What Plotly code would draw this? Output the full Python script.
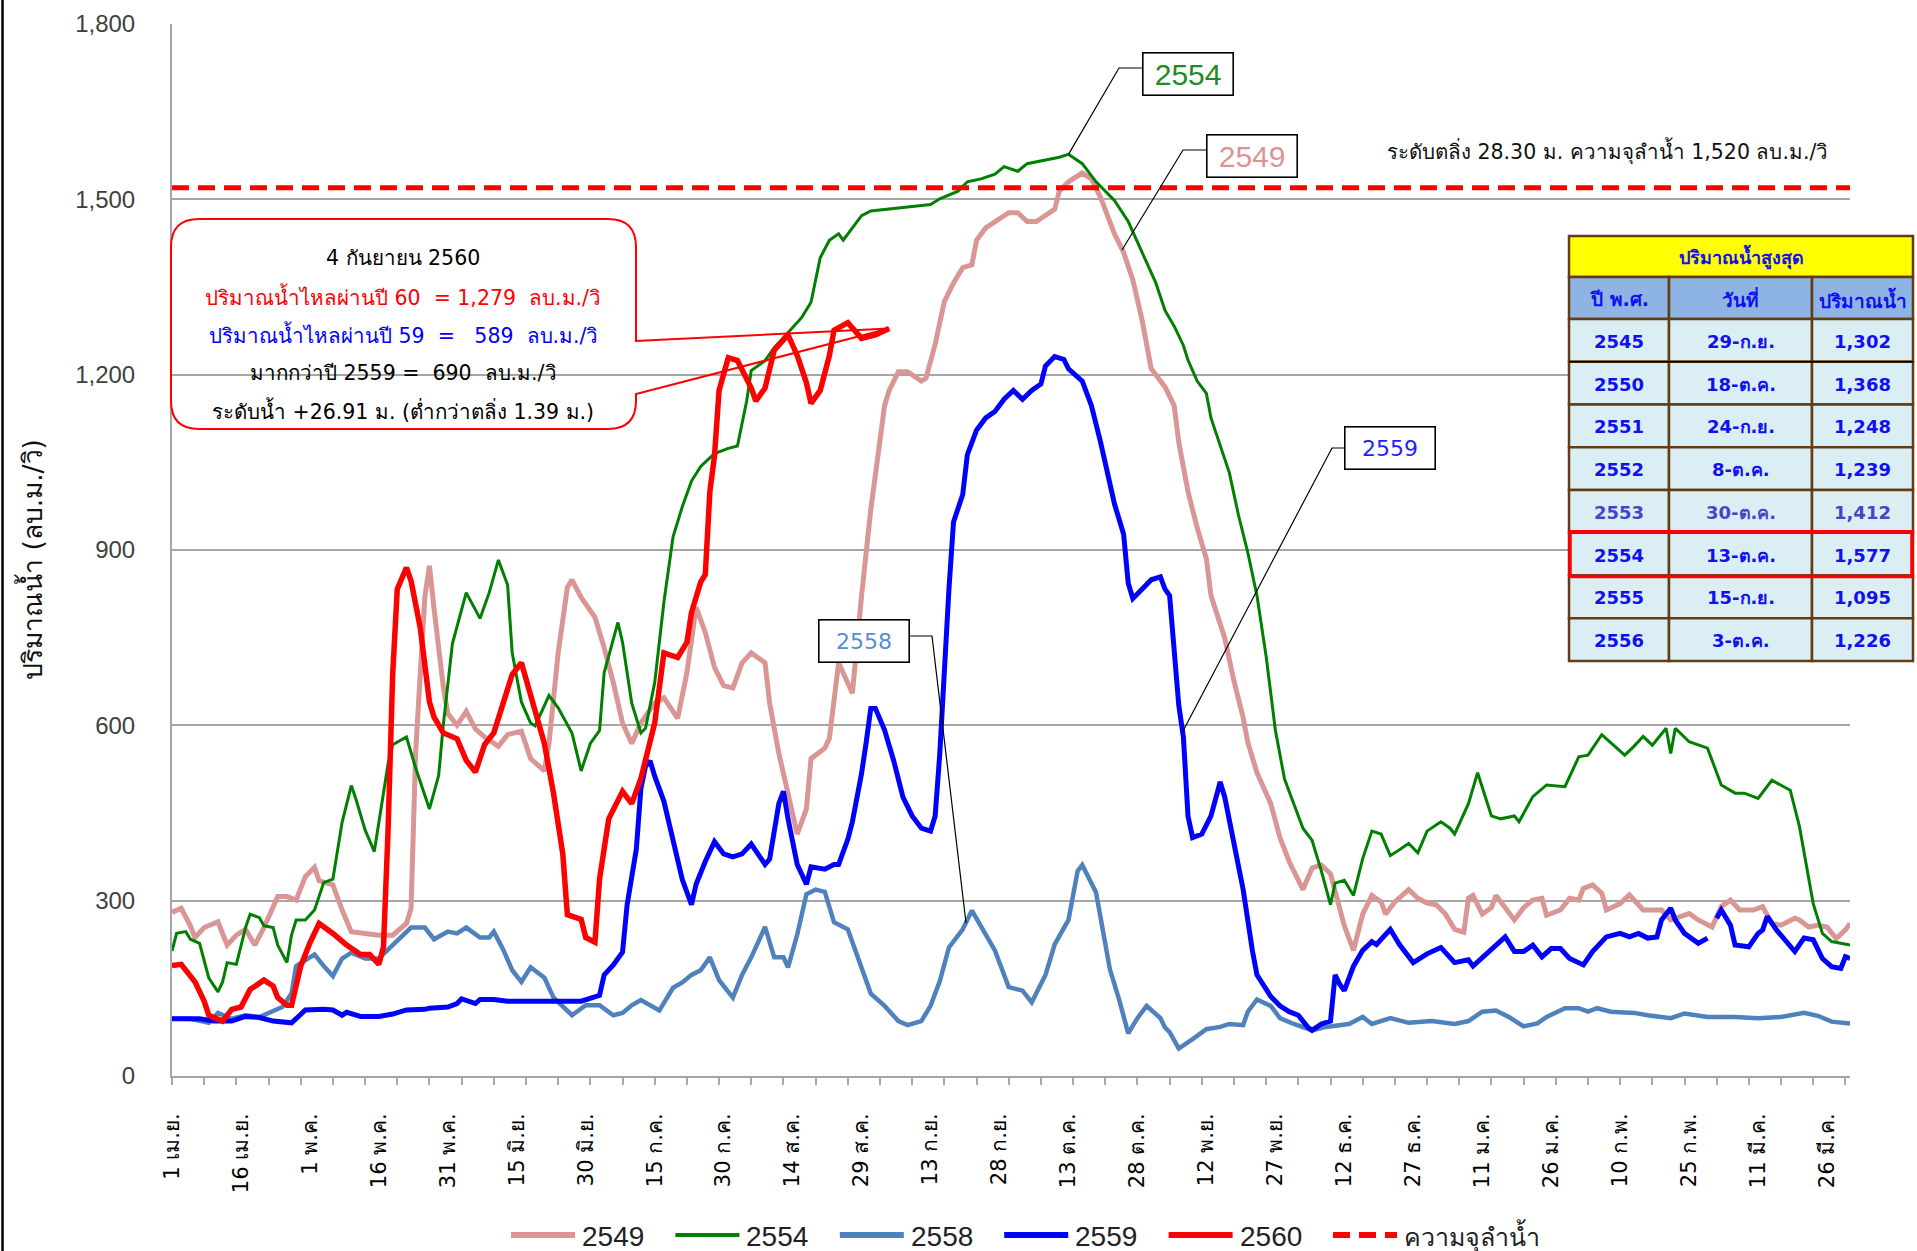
import plotly.graph_objects as go

# ---------------- data ----------------
TICK_DAYS = list(range(0, 361, 15))
TICK_TEXT = ["1 เม.ย.", "16 เม.ย.", "1 พ.ค.", "16 พ.ค.", "31 พ.ค.", "15 มิ.ย.", "30 มิ.ย.",
             "15 ก.ค.", "30 ก.ค.", "14 ส.ค.", "29 ส.ค.", "13 ก.ย.", "28 ก.ย.", "13 ต.ค.",
             "28 ต.ค.", "12 พ.ย.", "27 พ.ย.", "12 ธ.ค.", "27 ธ.ค.", "11 ม.ค.", "26 ม.ค.",
             "10 ก.พ.", "25 ก.พ.", "11 มี.ค.", "26 มี.ค."]
Y_TICKS = [0, 300, 600, 900, 1200, 1500, 1800]
CAPACITY = 1520

D2549 = [0,2,4,5,7,10,12,14,16,18, 20,23,25,27,29,31,32,35,37,39, 42,45,48,51,52,53,55,56,57,59,
         60,62,64,66,68,71,73,76,78,81, 82,84,86,87,89,92,94,96,98,100, 102,105,107,110,112,114,116,118,120,122,
         124,126,129,130,132,134,136,138,139,142, 143,145,148,150,152,155,156,158,160,163,
         164,166,168,170,172,174,175,177,179,182, 184,186,188,190,192,193,195,198,200,202,
         205,207,209,211,213,216,218,219,221,223, 225,226,229,231,233,234,236,239,241,243,
         246,248,250,252,254,255,257,259,261,263, 264,266,269,271,273,275,277,279,281,282,
         283,285,287,288,290,292,294,296,298,299, 302,304,306,307,309,311,312,315,317,318,
         320,322,324,326,328,330,332,335,337,339, 341,344,346,348,350,353,354,356,358,360, 362,364,365]
V2549 = [280,287,257,237,254,264,224,241,251,224, 254,307,307,301,341,357,334,327,284,247,
         244,241,241,261,287,554,820,873,800,667, 620,600,624,594,580,564,584,590,543,522,
         569,724,836,849,819,785,733,673,604,569, 604,638,647,612,690,802,759,699,668,664,
         707,724,707,638,552,483,414,457,543,561, 578,707,655,822,969,1147,1173,1205,1205,1189,
         1194,1252,1325,1357,1383,1388,1430,1451,1462,1477, 1477,1462,1462,1472,1483,1514,1530,1545,1535,1503,
         1441,1409,1362,1294,1210,1179,1147,1084,1000,938, 885,822,749,676,613,571,519,466,408,367,
         319,356,361,346,288,257,215,277,309,298, 277,298,319,304,296,293,277,251,246,304,
         309,277,288,309,288,267,288,301,304,275, 284,304,301,321,327,313,284,295,310,301,
         284,284,284,267,273,278,267,255,290,301, 284,284,290,261,258,270,267,255,258,255, 235,250,261]

D2554 = [0,1,3,4,6,8,10,11,12,14, 16,17,19,20,22,23,25,26,27,29, 31,33,35,37,39,40,42,44,45,47,
         48,51,53,56,58,59,61,64,67,69, 71,73,74,76,78,79,82,84,87,89, 91,93,94,97,98,100,102,103,105,107,
         109,111,113,115,118,121,123,125,126,129, 131,133,135,137,139,141,143,145,146,148,
         150,152,157,160,165,167,171,173,176,179, 181,184,186,190,193,195,198,201,205,208,
         211,214,216,218,220,221,223,225,226,230, 232,234,236,238,240,242,245,246,248,250,
         252,253,255,257,259,261,263,265,267,269, 271,273,276,278,279,282,284,287,289,292,
         293,296,299,303,306,308,311,314,316,318, 320,322,325,326,327,330,332,334,337,340,
         342,345,348,352,354,356,357,359,361,363, 365]
V2554 = [214,244,247,234,227,168,144,161,194,191, 254,277,271,257,254,224,194,241,267,267,
         284,331,337,434,497,474,421,384,434,534, 567,580,527,457,514,600,740,827,783,827,
         883,840,724,640,604,599,651,630,587,522, 569,591,690,776,742,638,587,595,673,811,
         923,974,1018,1043,1065,1074,1078,1155,1207,1224, 1246,1263,1280,1298,1324,1400,1430,1441,1430,1451,
         1472,1480,1485,1487,1491,1501,1514,1530,1535,1543, 1556,1548,1561,1568,1572,1577,1561,1530,1498,1462,
         1409,1357,1310,1283,1250,1225,1189,1168,1126,1032, 959,896,822,718,592,508,445,424,403,351,
         293,330,335,309,372,419,414,377,387,398, 382,419,435,424,414,466,519,445,440,445,
         435,478,498,495,546,549,584,564,549,564, 581,566,595,552,595,572,566,561,498,484,
         484,475,506,489,427,335,295,244,230,227, 224]

D2558 = [0,4,8,10,13,16,19,22,24,26, 27,29,31,33,35,37,39,42,45,48, 51,52,55,57,60,62,64,67,69,70,
         72,74,76,78,81,83,87,90,93,96, 98,100,102,106,109,111,113,115,117,119,
         122,124,126,129,131,133,134,136,138,140, 142,144,147,150,152,155,158,160,163,165,
         167,169,172,174,176,179,182,185,187,190, 192,195,197,198,201,204,206,208,210,212,
         215,216,217,219,222,225,228,230,233,234, 236,239,241,244,248,251,256,259,261,265,
         269,274,279,282,285,288,291,294,297,299, 303,306,308,310,313,318,321,326,329,334,
         340,345,350,355,358,361,365]
V2558 = [98,98,91,108,98,104,101,111,118,141, 188,198,208,188,171,201,211,201,201,224,
         247,254,254,234,247,244,254,237,237,247, 217,181,161,186,168,134,104,121,121,104,
         108,121,130,112,151,160,173,181,203,164, 134,173,203,255,203,203,186,242,311,319,
         315,263,251,183,141,120,94,87,94,120, 162,220,251,283,257,215,152,146,126,173,
         225,267,351,361,314,183,131,73,99,120, 99,83,75,47,63,80,84,89,87,110,
         131,120,99,89,78,84,89,101,89,99, 91,94,89,94,110,112,100,85,90,101,
         116,116,110,116,110,108,104,99,107,101, 101,99,101,108,103,93,90]

D2559 = [0,6,9,13,16,19,22,26,27,29, 33,35,37,38,41,45,48,51,55,56, 60,62,63,66,67,70,73,77,79,86,
         89,93,94,96,98,99,101,102,103,104, 105,107,109,111,113,114,116,118,120,122,
         124,126,129,130,132,133,134,136,138,139, 142,144,145,147,148,150,151,152,153,155,
         157,159,161,163,165,166,167,168,169,170, 172,173,175,177,179,181,183,185,187,189,
         190,192,194,195,197,198,200,202,205,207, 208,209,211,213,215,216,217,218,219,220,
         221,222,224,226,228,229,231,233,235,236, 239,241,243,245,247,248,250,252,253,254,
         255,257,259,261,262,265,267,270,273,276, 279,282,283,286,288,290,292,294,296,298,
         300,302,304,307,309,312,315,317,319,321, 323,324,326,327,329,331,332,334,335,336,
         337,339,340,343,345,346,347,349,351,353, 355,357,359,361,363,364,365]
V2559 = [98,98,94,94,102,100,94,91,98,113, 114,113,104,109,102,102,106,113,114,116,
         118,124,132,124,131,131,128,128,130,130, 128,138,173,190,212,293,388,492,530,539,
         513,470,405,336,293,328,367,401,380,375, 380,397,362,371,466,487,440,362,328,358,
         354,362,362,405,435,518,571,629,629,592, 539,477,445,424,419,445,550,707,833,948,
         995,1063,1105,1126,1137,1158,1173,1158,1173,1184, 1215,1231,1226,1210,1194,1189,1147,1084,979,927,
         843,817,833,849,854,833,822,725,634,580, 445,408,414,445,503,477,403,319,215,173,
         136,120,110,104,84,78,89,94,173,157, 146,188,215,230,225,251,225,194,209,220,
         194,199,188,209,225,238,213,213,224,204, 218,218,201,190,213,238,244,238,244,236,
         238,267,287,267,244,233,227,236,None,270, 284,258,224,221,244,250,273,250,230,213,
         236,233,201,187,184,204,201]

D2560 = [0,2,5,7,8,11,13,15,17,20, 22,23,25,26,28,30,32,35,38,41, 43,45,46,47,48,49,51,52,54,56,
         57,59,62,64,66,68,70,72,74,76, 78,81,83,85,86,89,90,92,93,95, 98,100,102,105,107,110,112,113,115,116,
         117,118,119,121,123,126,127,129,131,134, 136,138,139,141,143,144,147,149,150,153, 156]
V2560 = [189,191,161,128,104,94,114,118,148,164, 154,134,121,121,188,228,261,244,224,208,
         208,191,221,421,687,833,870,847,767,640, 614,587,577,540,520,567,587,634,687,707,
         655,569,483,380,276,268,237,229,337,440, 487,466,509,604,724,716,742,793,845,858,
         1000,1061,1173,1229,1224,1177,1155,1177,1242,1268, 1233,1186,1151,1173,1233,1276,1289,1272,1262,1268, 1279]

TABLE_TITLE = "ปริมาณน้ำสูงสุด"
TABLE_HEAD = ["ปี พ.ศ.", "วันที่", "ปริมาณน้ำ"]
TABLE_YEAR = ["2545", "2550", "2551", "2552", "2553", "2554", "2555", "2556"]
TABLE_DATE = ["29-ก.ย.", "18-ต.ค.", "24-ก.ย.", "8-ต.ค.", "30-ต.ค.", "13-ต.ค.", "15-ก.ย.", "3-ต.ค."]
TABLE_VAL = [1302, 1368, 1248, 1239, 1412, 1577, 1095, 1226]
HIGHLIGHT_YEAR = "2554"

CALLOUT_LINES = [
    ("4 กันยายน 2560", "#000000"),
    ("ปริมาณน้ำไหลผ่านปี 60\u00a0 = 1,279\u00a0 ลบ.ม./วิ", "#FF0000"),
    ("ปริมาณน้ำไหลผ่านปี 59\u00a0 = \u00a0 589\u00a0 ลบ.ม./วิ", "#0000FF"),
    ("มากกว่าปี 2559 = \u00a0690\u00a0 ลบ.ม./วิ", "#000000"),
    ("ระดับน้ำ +26.91 ม. (ต่ำกว่าตลิ่ง 1.39 ม.)", "#000000"),
]

# ---------------- layout geometry (page pixels) ----------------
FIG_W, FIG_H = 1917, 1251
PL, PR, PT, PB = 172, 1850, 24, 1076
X_MAX, Y_MAX = 365, 1800

def px(x):
    return (x - PL) / (PR - PL)

def py(y):
    return (PB - y) / (PB - PT)

def dpx(day):
    return PL + day / X_MAX * (PR - PL)

def dpy(v):
    return PB - v / Y_MAX * (PB - PT)

def P(x, y):
    return f"{px(x):.5f},{py(y):.5f}"

THAI = "'DejaVu Sans', 'Noto Sans', sans-serif"
SANS = "'Liberation Sans Narrow', 'Arial Narrow', 'Liberation Sans', Arial, sans-serif"

SERIES = [("2549", D2549, V2549, "#D99694", 5),
          ("2554", D2554, V2554, "#008000", 3),
          ("2558", D2558, V2558, "#4F81BD", 4.5),
          ("2559", D2559, V2559, "#0000FF", 5),
          ("2560", D2560, V2560, "#FF0000", 5.5)]
CAP_NAME, CAP_COLOR, CAP_DASH = "ความจุลำน้ำ", "#FF0000", "17px,9px"

fig = go.Figure()
for name, d, v, c, w in SERIES:
    fig.add_trace(go.Scatter(x=d, y=v, mode="lines", name=name, showlegend=False,
                             line=dict(color=c, width=w), connectgaps=False))
fig.add_trace(go.Scatter(x=[0, X_MAX], y=[CAPACITY, CAPACITY], mode="lines", showlegend=False,
                         name=CAP_NAME, xaxis="x2",
                         line=dict(color=CAP_COLOR, width=5, dash=CAP_DASH)))

shapes = []
annotations = []

# left frame line of the picture
shapes.append(dict(type="line", xref="paper", yref="paper", x0=px(2.5), x1=px(2.5),
                   y0=py(0), y1=py(FIG_H), line=dict(color="black", width=2.5), layer="above"))

# ---- callout box ----
bx0, bx1, by0, by1, r = 171, 636, 219, 429, 28
tipx, tipy = dpx(D2560[-1]), dpy(V2560[-1])
path = (f"M {P(bx0 + r, by0)} L {P(bx1 - r, by0)} Q {P(bx1, by0)} {P(bx1, by0 + r)} "
        f"L {P(bx1, 341)} L {P(tipx, tipy)} L {P(bx1, 394)} "
        f"L {P(bx1, by1 - r)} Q {P(bx1, by1)} {P(bx1 - r, by1)} "
        f"L {P(bx0 + r, by1)} Q {P(bx0, by1)} {P(bx0, by1 - r)} "
        f"L {P(bx0, by0 + r)} Q {P(bx0, by0)} {P(bx0 + r, by0)} Z")
shapes.append(dict(type="path", xref="paper", yref="paper", path=path,
                   line=dict(color="#FF0000", width=2), layer="above"))
for i, (txt, col) in enumerate(CALLOUT_LINES):
    annotations.append(dict(xref="paper", yref="paper", x=px(403), y=py(258 + i * 38.2),
                            text=txt, showarrow=False, xanchor="center", yanchor="middle",
                            font=dict(family=THAI, size=20.5, color=col)))

# ---- series label boxes with leaders ----
labels = [
    ("2554", "#1E8C1E", (1188, 74), [(dpx(195), dpy(1577)), (1119, 68), (1146, 68)], SANS, 30),
    ("2549", "#D99694", (1252, 156), [(1122, 250), (1183, 150), (1208, 150)], SANS, 30),
    ("2559", "#1F1FFF", (1390, 448), [(1183, 731), (1332, 448), (1344, 448)], THAI, 22),
    ("2558", "#558ED5", (864, 641), [(966, 923), (932, 636), (910, 636)], THAI, 22),
]
for txt, col, (cx, cy), lead, fam, fs in labels:
    lp = "M " + " L ".join(P(x, y) for x, y in lead)
    shapes.append(dict(type="path", xref="paper", yref="paper", path=lp,
                       line=dict(color="black", width=1.2), layer="above"))
    annotations.append(dict(xref="paper", yref="paper", x=px(cx), y=py(cy), text=txt,
                            showarrow=False, xanchor="center", yanchor="middle",
                            width=87, height=39, borderpad=1, borderwidth=1.6,
                            bordercolor="black", bgcolor="white",
                            font=dict(family=fam, size=fs, color=col)))

# ---- bank level note ----
annotations.append(dict(xref="paper", yref="paper", x=px(1830), y=py(151),
                        text="ระดับตลิ่ง 28.30 ม. ความจุลำน้ำ 1,520 ลบ.ม./วิ",
                        showarrow=False, xanchor="right", yanchor="middle",
                        font=dict(family=THAI, size=20.5, color="#111111")))

# ---- y axis title ----
annotations.append(dict(xref="paper", yref="paper", x=px(31), y=py(560),
                        text="ปริมาณน้ำ (ลบ.ม./วิ)", textangle=-90, showarrow=False,
                        xanchor="center", yanchor="middle",
                        font=dict(family=THAI, size=26.5, color="#111111")))

# ---- hand-drawn legend (long line samples like the original) ----
LEG_Y, LEG_X0, LEG_STEP, LEG_LEN = 1235, 511, 164.4, 64
legend_items = [(n, c, 6 if w > 3 else 4, "solid") for n, _, _, c, w in SERIES]
legend_items.append((CAP_NAME, CAP_COLOR, 6, CAP_DASH))
for k, (name, col, lw, dash) in enumerate(legend_items):
    x0 = LEG_X0 + k * LEG_STEP
    shapes.append(dict(type="line", xref="paper", yref="paper", x0=px(x0), x1=px(x0 + LEG_LEN),
                       y0=py(LEG_Y), y1=py(LEG_Y), line=dict(color=col, width=lw, dash=dash)))
    annotations.append(dict(xref="paper", yref="paper", x=px(x0 + LEG_LEN + 5), y=py(LEG_Y + 1),
                            text=name, showarrow=False, xanchor="left", yanchor="middle",
                            font=dict(family=SANS if name != CAP_NAME else THAI,
                                      size=28 if name != CAP_NAME else 25, color="#222222")))

# ---- max-flow table ----
cols = [1569, 1669, 1812, 1913]
ty0, ty1, ty2 = 236, 277, 319
row_h = (661 - ty2) / len(TABLE_YEAR)
BROWN = "#633C14"
TXT_BLUE = "#1010F0"

def cell(x0, x1, y0, y1, fill):
    shapes.append(dict(type="rect", xref="paper", yref="paper", x0=px(x0), x1=px(x1),
                       y0=py(y0), y1=py(y1), fillcolor=fill,
                       line=dict(color=BROWN, width=2.5), layer="above"))

def cell_text(x, y, txt, size, color):
    annotations.append(dict(xref="paper", yref="paper", x=px(x), y=py(y), text="<b>" + txt + "</b>",
                            showarrow=False, xanchor="center", yanchor="middle",
                            font=dict(family=THAI, size=size, color=color)))

cell(cols[0], cols[3], ty0, ty1, "#FFFF00")
cell_text((cols[0] + cols[3]) / 2, (ty0 + ty1) / 2, TABLE_TITLE, 18, TXT_BLUE)
for j, h in enumerate(TABLE_HEAD):
    cell(cols[j], cols[j + 1], ty1, ty2, "#8DB4E2")
    cell_text((cols[j] + cols[j + 1]) / 2, (ty1 + ty2) / 2 + 1, h, 19, TXT_BLUE)
hl = None
for i, (yr, dt, val) in enumerate(zip(TABLE_YEAR, TABLE_DATE, TABLE_VAL)):
    r0 = ty2 + i * row_h
    r1 = r0 + row_h
    for j, c in enumerate([yr, dt, f"{val:,}"]):
        cell(cols[j], cols[j + 1], r0, r1, "#DAEEF3")
        cell_text((cols[j] + cols[j + 1]) / 2, (r0 + r1) / 2 + 1, c, 18,
                  "#4545C8" if yr == "2553" else TXT_BLUE)
    if yr == HIGHLIGHT_YEAR:
        hl = (r0, r1)
shapes.append(dict(type="line", xref="paper", yref="paper", x0=px(cols[0]), x1=px(cols[3]),
                   y0=py(ty2 + row_h), y1=py(ty2 + row_h), line=dict(color="black", width=1.5),
                   layer="above"))
if hl:
    shapes.append(dict(type="rect", xref="paper", yref="paper", x0=px(cols[0] + 1), x1=px(cols[3] - 1),
                       y0=py(hl[0] - 1), y1=py(hl[1] + 1),
                       line=dict(color="#FF0000", width=3.5), layer="above"))

fig.update_layout(
    width=FIG_W, height=FIG_H,
    margin=dict(l=PL, r=FIG_W - PR, t=PT, b=FIG_H - PB, autoexpand=False),
    paper_bgcolor="white", plot_bgcolor="white",
    font=dict(family=THAI, color="#000000"),
    showlegend=False,
    xaxis=dict(range=[0, X_MAX], tickmode="array", tickvals=TICK_DAYS, ticktext=TICK_TEXT,
               tickangle=-90, ticks="", showline=True, linecolor="#A6A6A6", linewidth=2,
               showgrid=False, zeroline=False, ticklabelstandoff=27, automargin=False,
               tickfont=dict(family=THAI, size=21, color="#000000")),
    xaxis2=dict(range=[0, X_MAX], overlaying="x", anchor="y", side="bottom",
                tickmode="array", tickvals=list(range(0, X_MAX + 1, 7)),
                ticks="outside", ticklen=8, tickwidth=1.5, tickcolor="#A6A6A6",
                showticklabels=False, showline=False, showgrid=False, zeroline=False),
    yaxis=dict(range=[0, Y_MAX], tickmode="array", tickvals=Y_TICKS,
               ticktext=[f"{v:,}" for v in Y_TICKS], showgrid=True, gridcolor="#A6A6A6",
               gridwidth=1.5, showline=True, linecolor="#A6A6A6", linewidth=2,
               zeroline=False, ticks="", ticklabelstandoff=30, automargin=False,
               tickfont=dict(family=SANS, size=24, color="#404040")),
    shapes=shapes, annotations=annotations,
)

# remove the default 8px page margin so the figure sits at the window origin; hide the toolbar
fig.write_html("out.html", config={"displayModeBar": False},
               post_script="document.body.style.margin='0px';")
